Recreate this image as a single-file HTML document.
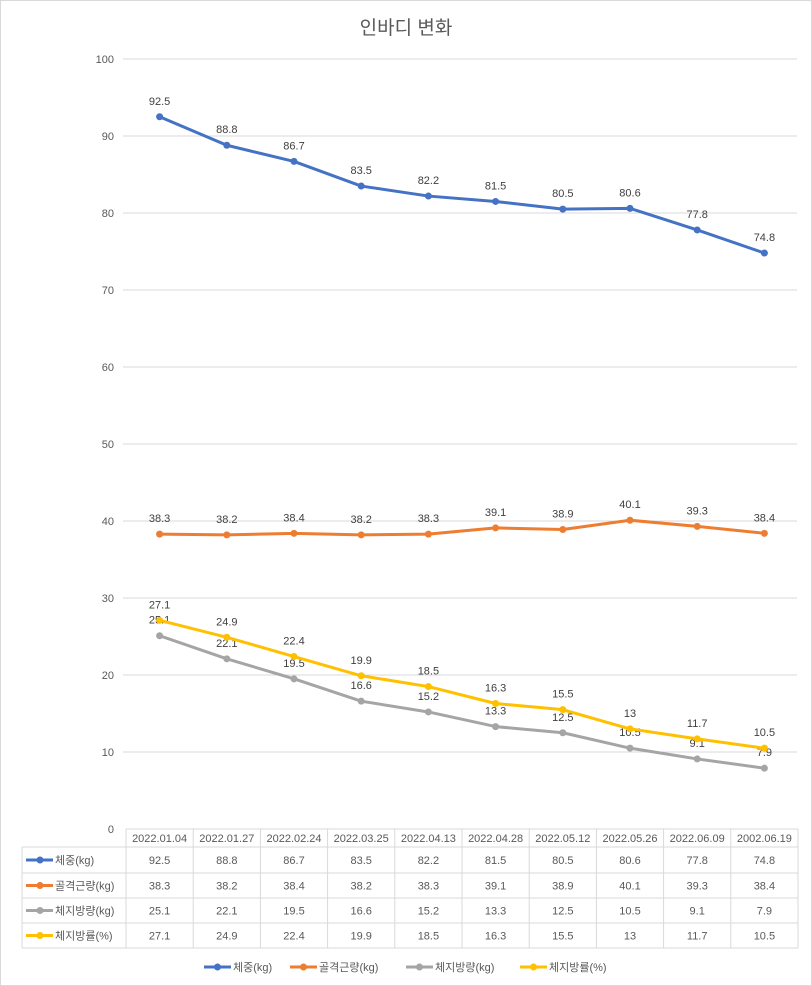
<!DOCTYPE html>
<html><head><meta charset="utf-8"><style>
body{margin:0;background:#fff}
svg{display:block;font-family:"Liberation Sans","Noto Sans CJK KR",sans-serif}
</style></head><body>
<svg id="c" width="812" height="986">
<rect x="0.5" y="0.5" width="811" height="985" fill="#fff" stroke="#d9d9d9"/>
<text x="406" y="34" text-anchor="middle" font-size="19" fill="#595959">인바디 변화</text>
<g id="grid"></g><g id="series"></g><g id="table"></g><g id="legend"></g>
</svg>
<script>
const categories=["2022.01.04","2022.01.27","2022.02.24","2022.03.25","2022.04.13","2022.04.28","2022.05.12","2022.05.26","2022.06.09","2002.06.19"];
const seriesNames=["체중(kg)","골격근량(kg)","체지방량(kg)","체지방률(%)"];
const weight=[92.5,88.8,86.7,83.5,82.2,81.5,80.5,80.6,77.8,74.8];
const muscle=[38.3,38.2,38.4,38.2,38.3,39.1,38.9,40.1,39.3,38.4];
const fatMass=[25.1,22.1,19.5,16.6,15.2,13.3,12.5,10.5,9.1,7.9];
const fatPct=[27.1,24.9,22.4,19.9,18.5,16.3,15.5,13,11.7,10.5];
const yTicks=[0,10,20,30,40,50,60,70,80,90,100];
const colors=["#4472c4","#ed7d31","#a5a5a5","#ffc000"];
const series=[weight,muscle,fatMass,fatPct];
const NS="http://www.w3.org/2000/svg";
const x0=126,colW=67.2,yTop=59,yBot=829,yMax=100;
const xs=i=>x0+colW*(i+0.5);
const ys=v=>yBot-(v/yMax)*(yBot-yTop);
function mk(tag,attrs,parent,text){const e=document.createElementNS(NS,tag);for(const k in attrs)e.setAttribute(k,attrs[k]);if(text!==undefined)e.textContent=text;parent.appendChild(e);return e;}
const grid=document.getElementById('grid');
yTicks.forEach(t=>{
  if(t>0){const l=mk('line',{x1:123,x2:797,y1:ys(t),y2:ys(t),stroke:'#d9d9d9'},grid);
  
  }
  const tx=mk('text',{x:114,y:ys(t)+4,'text-anchor':'end','font-size':11,fill:'#595959'},grid,String(t));
  
  
});
const sg=document.getElementById('series');
const labelOff=[[-1,-12],[-1,-12],[-1,-12],[-1,-12]];
series.forEach((d,s)=>{
  const g=mk('g',{},sg);
  
  
  const p=mk('polyline',{points:d.map((v,i)=>xs(i)+','+ys(v)).join(' '),fill:'none',stroke:colors[s],'stroke-width':3,'stroke-linejoin':'round'},g);
  
  
  d.forEach((v,i)=>{
    const c=mk('circle',{cx:xs(i),cy:ys(v),r:3.5,fill:colors[s]},g);
    
    
    const t=mk('text',{x:xs(i),y:ys(v)-12,'text-anchor':'middle','font-size':11,fill:'#404040'},g,String(v));
    
    
  });
});
// table
const tb=document.getElementById('table');
const rowY=[829,847,873,898,923,948];
const tl=[];
for(let i=0;i<=10;i++)tl.push([x0+colW*i,829,x0+colW*i,948]);
tl.push([22,847,22,948]);
rowY.forEach((y,r)=>tl.push([r===0?x0:22,y,x0+colW*10,y]));
tl.forEach(a=>{const l=mk('line',{x1:a[0],y1:a[1],x2:a[2],y2:a[3],stroke:'#d9d9d9'},tb);
  
  });
categories.forEach((c,i)=>{
  const t=mk('text',{x:xs(i),y:842,'text-anchor':'middle','font-size':11,fill:'#595959'},tb,c);
  
  
});
series.forEach((d,s)=>{
  const cy=(rowY[s+1]+rowY[s+2])/2;
  const k=mk('line',{x1:26,x2:53,y1:cy,y2:cy,stroke:colors[s],'stroke-width':3},tb);
  
  
  const kc=mk('circle',{cx:40,cy:cy,r:3.5,fill:colors[s]},tb);
  
  
  const n=mk('text',{x:55,y:cy+4,'font-size':11,fill:'#595959'},tb,seriesNames[s]);
  
  
  d.forEach((v,i)=>{
    const t=mk('text',{x:xs(i),y:cy+4,'text-anchor':'middle','font-size':11,fill:'#595959'},tb,String(v));
    
    
  });
});
// legend
const lg=document.getElementById('legend');
const lx=[204,290,406,520];
seriesNames.forEach((n,s)=>{
  const g=mk('g',{},lg);
  
  
  mk('line',{x1:lx[s],x2:lx[s]+27,y1:967,y2:967,stroke:colors[s],'stroke-width':3},g);
  mk('circle',{cx:lx[s]+13.5,cy:967,r:3.5,fill:colors[s]},g);
  mk('text',{x:lx[s]+29,y:971,'font-size':11,fill:'#595959'},g,n);
});
</script>
</body></html>
